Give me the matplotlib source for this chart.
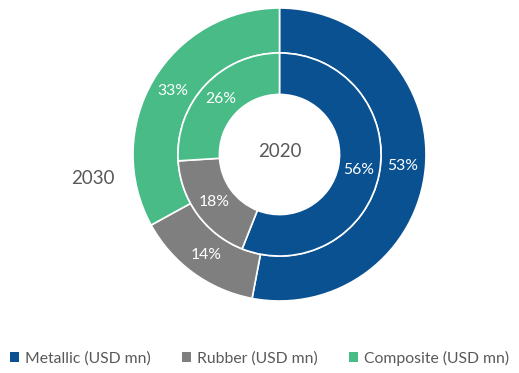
import numpy as np
import matplotlib.pyplot as plt
from matplotlib.patches import Patch

plt.rcParams['font.family'] = ['Lato', 'DejaVu Sans']

# Share of each segment (%)
categories = ['Metallic (USD mn)', 'Rubber (USD mn)', 'Composite (USD mn)']
share_2030 = [53, 14, 33]
share_2020 = [56, 18, 26]
colors = ['#0A5192', '#7F7F7F', '#48BB86']

fig = plt.figure(figsize=(5.19, 3.73), dpi=100)
ax = fig.add_axes([133 / 519, 72 / 373, 293 / 519, 293 / 373])

outer_r, outer_w = 1.0, 0.307
inner_r, inner_w = 0.693, 0.283

wedge_kw = dict(edgecolor='white', linewidth=1.2)
ax.pie(share_2030, radius=outer_r, colors=colors, startangle=90,
       counterclock=False, wedgeprops=dict(width=outer_w, **wedge_kw))
ax.pie(share_2020, radius=inner_r, colors=colors, startangle=90,
       counterclock=False, wedgeprops=dict(width=inner_w, **wedge_kw))


def ring_labels(values, r_mid):
    start = 90.0
    for v in values:
        mid = np.deg2rad(start - v / 100 * 360 / 2)
        ax.text(r_mid * np.cos(mid), r_mid * np.sin(mid), f'{v}%',
                ha='center', va='center', color='white', fontsize=11.3)
        start -= v / 100 * 360


ring_labels(share_2030, outer_r - outer_w / 2)
ring_labels(share_2020, inner_r - inner_w / 2)

ax.text(0, 0.02, '2020', ha='center', va='center', fontsize=13.5, color='#595959')
ax.set_xlim(-1, 1)
ax.set_ylim(-1, 1)
ax.set_aspect('equal')
ax.axis('off')

fig.text(93 / 519, 1 - 179 / 373, '2030', ha='center', va='center',
         fontsize=13.5, color='#595959')

handles = [Patch(facecolor=c, edgecolor='none') for c in colors]
leg = fig.legend(handles, categories, loc='center', ncol=3,
                 bbox_to_anchor=(0.5, 1 - 358 / 373), frameon=False,
                 fontsize=11.3, handlelength=0.55, handleheight=0.55,
                 handletextpad=0.4, columnspacing=2.0)
for t in leg.get_texts():
    t.set_color('#595959')

fig.savefig('out.png', dpi=100)
